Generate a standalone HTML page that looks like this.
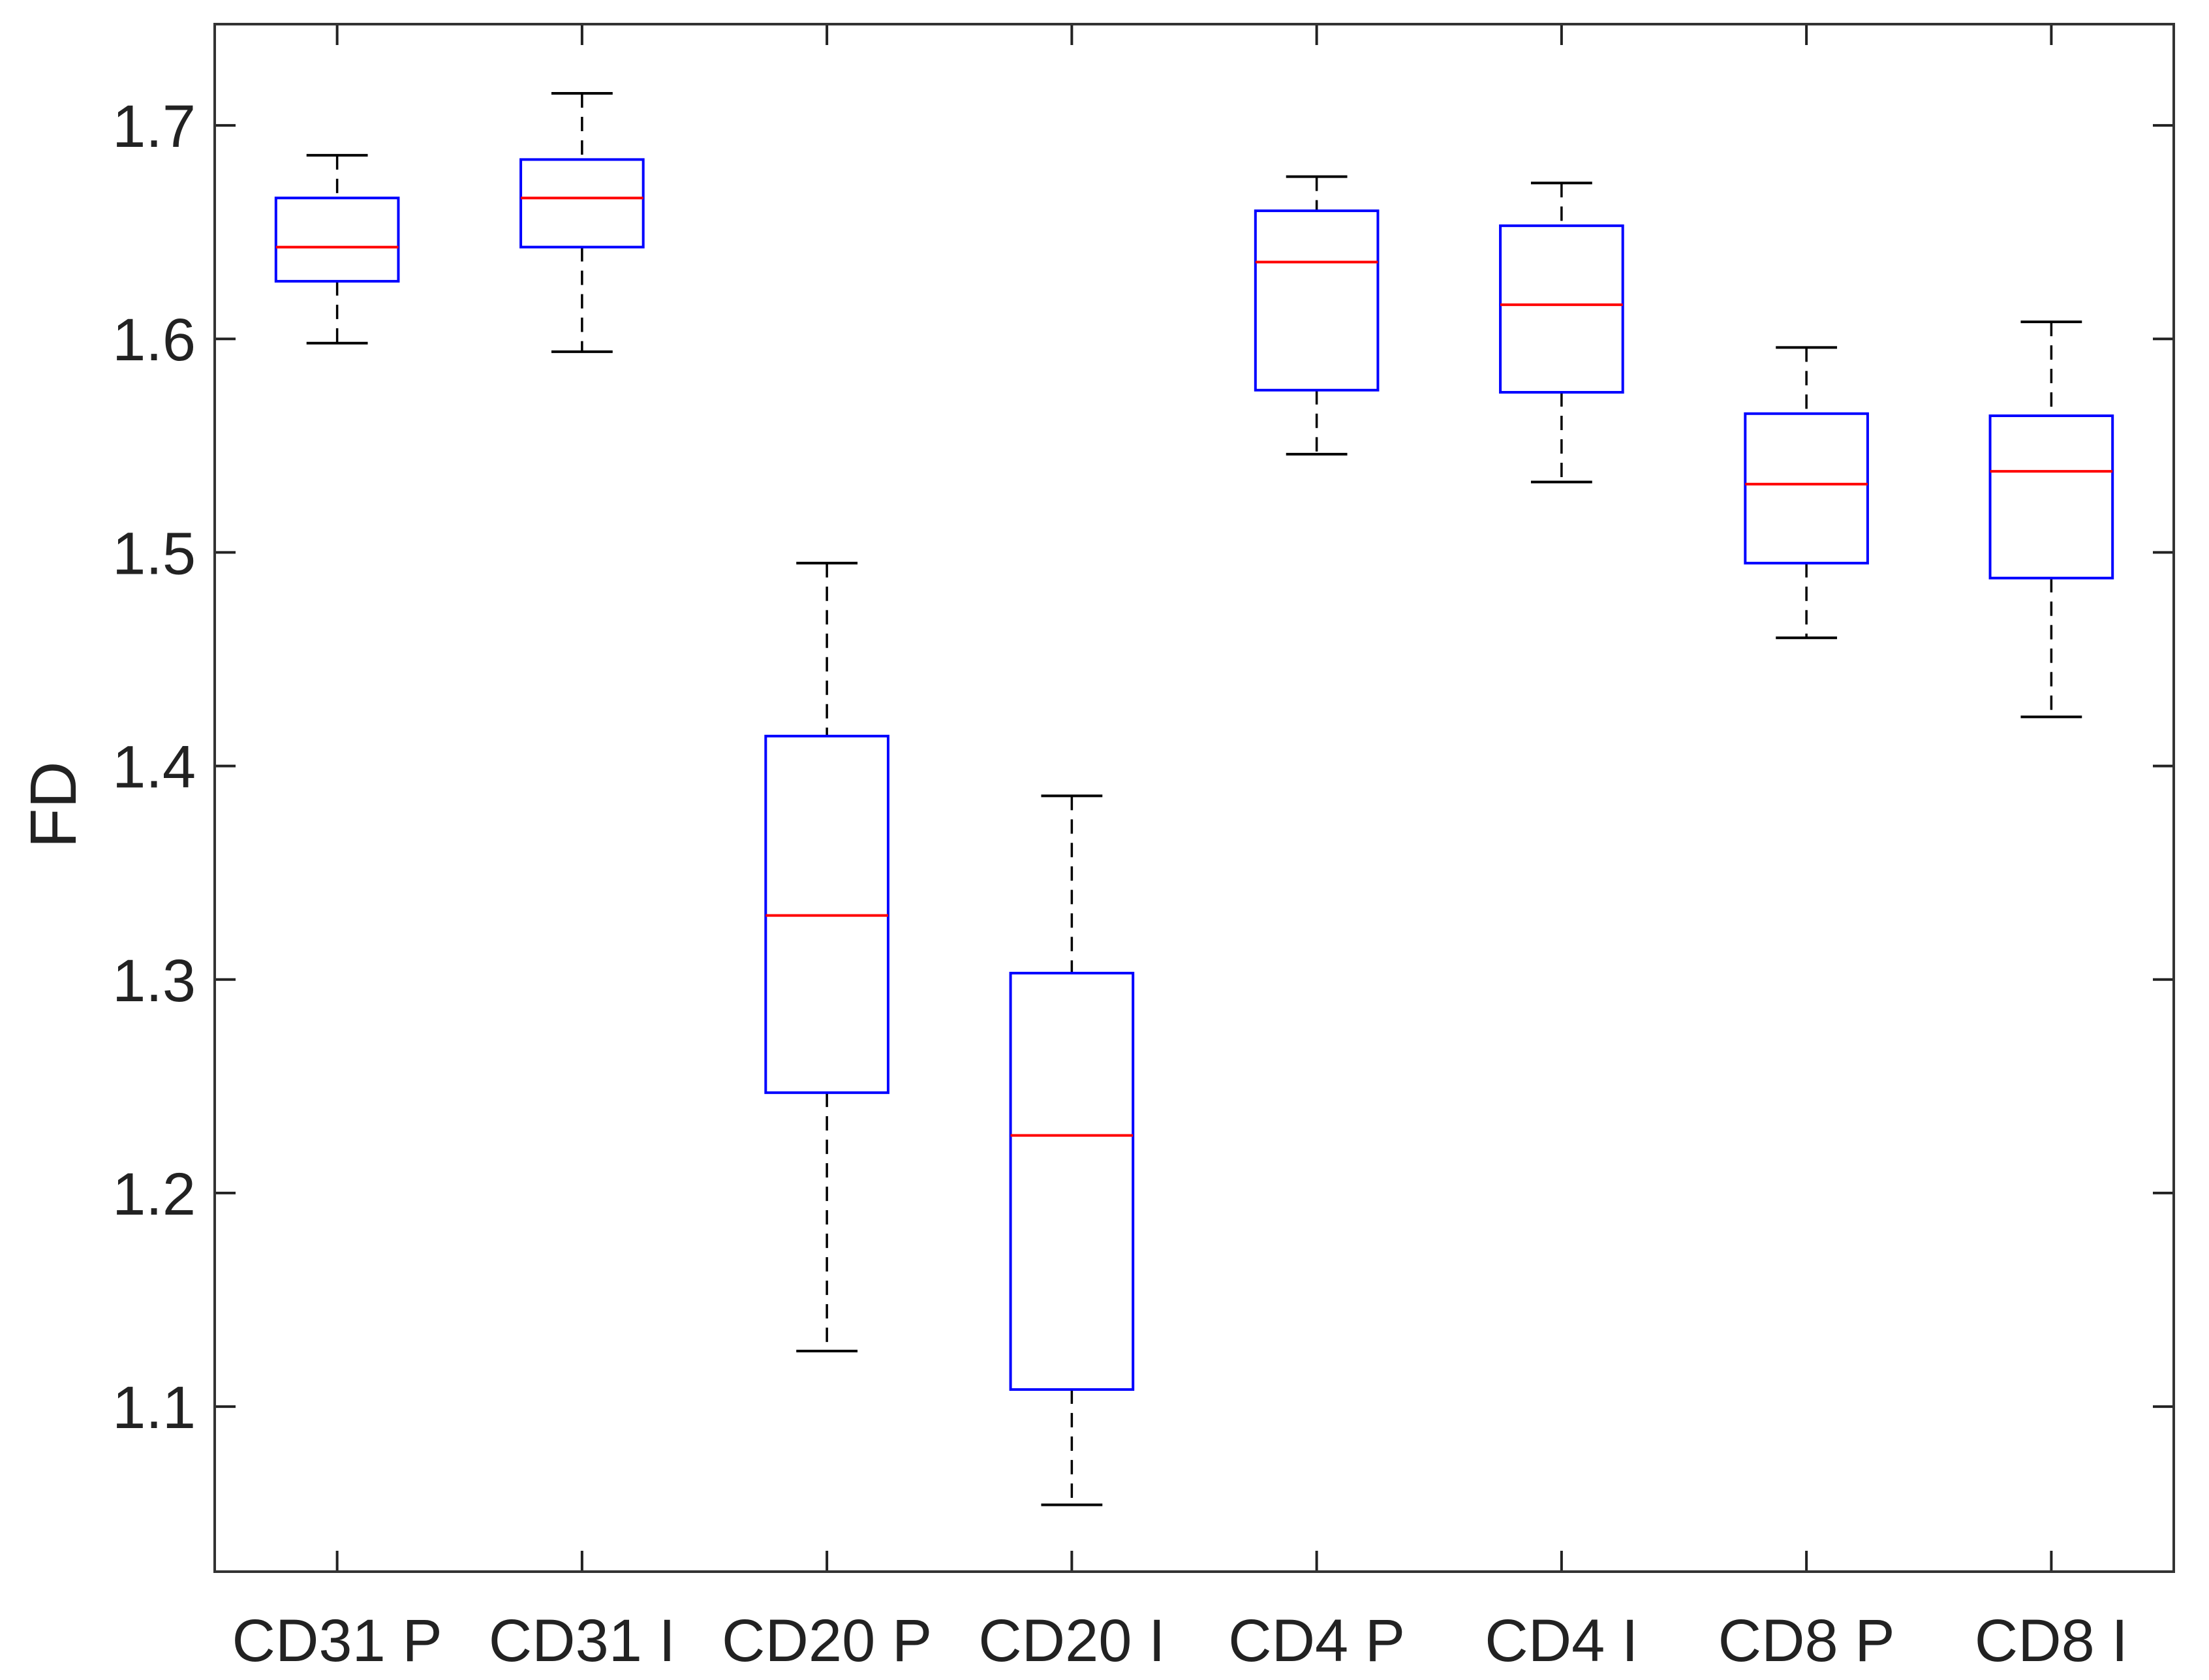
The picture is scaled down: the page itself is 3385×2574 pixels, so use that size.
<!DOCTYPE html>
<html><head><meta charset="utf-8"><style>
html,body{margin:0;padding:0;background:#fff;}
svg{display:block;}
text{font-family:"Liberation Sans",Arial,sans-serif;fill:#222;}
</style></head><body>
<svg id="chart" width="3385" height="2574" viewBox="0 0 3385 2574" xmlns="http://www.w3.org/2000/svg">
<g id="plot"></g>
</svg>
<script>
const categories = ["CD31 P","CD31 I","CD20 P","CD20 I","CD4 P","CD4 I","CD8 P","CD8 I"];
const whiskerHigh = [1.686,1.715,1.495,1.386,1.676,1.673,1.596,1.608];
const q3Values    = [1.666,1.684,1.414,1.303,1.660,1.653,1.565,1.564];
const medians     = [1.643,1.666,1.330,1.227,1.636,1.616,1.532,1.538];
const q1Values    = [1.627,1.643,1.247,1.108,1.576,1.575,1.495,1.488];
const whiskerLow  = [1.598,1.594,1.126,1.054,1.546,1.533,1.460,1.423];
const yTicks = [1.1,1.2,1.3,1.4,1.5,1.6,1.7];
const yTickLabels = ["1.1","1.2","1.3","1.4","1.5","1.6","1.7"];

const L=329,R=3331,T=37,B=2408;
const yMin=1.0227,yMax=1.7474;
function xs(i){return L+(i+0.5)/categories.length*(R-L);}
function ys(v){return B-(v-yMin)/(yMax-yMin)*(B-T);}
const step=(R-L)/categories.length;
const NS="http://www.w3.org/2000/svg";
const g=document.getElementById('plot');
function mk(tag,attrs,parent){const e=document.createElementNS(NS,tag);for(const k in attrs)e.setAttribute(k,attrs[k]);(parent||g).appendChild(e);return e;}

categories.forEach((c,i)=>{
  const x=xs(i),bw=step*0.5,cw=step*0.25;
  const grp=mk('g',{});
  
  
  const w1=mk('line',{x1:x,x2:x,y1:ys(whiskerHigh[i]),y2:ys(q3Values[i]),stroke:'#000','stroke-width':3.5,'stroke-dasharray':'22,14'},grp);
  
  
  const w2=mk('line',{x1:x,x2:x,y1:ys(q1Values[i]),y2:ys(whiskerLow[i]),stroke:'#000','stroke-width':3.5,'stroke-dasharray':'22,14'},grp);
  
  
  const c1=mk('line',{x1:x-cw/2,x2:x+cw/2,y1:ys(whiskerHigh[i]),y2:ys(whiskerHigh[i]),stroke:'#000','stroke-width':4},grp);
  
  
  const c2=mk('line',{x1:x-cw/2,x2:x+cw/2,y1:ys(whiskerLow[i]),y2:ys(whiskerLow[i]),stroke:'#000','stroke-width':4},grp);
  
  
  const bx=mk('rect',{x:x-bw/2,y:ys(q3Values[i]),width:bw,height:ys(q1Values[i])-ys(q3Values[i]),fill:'none',stroke:'#0000ff','stroke-width':4},grp);
  
  
  const md=mk('line',{x1:x-bw/2,x2:x+bw/2,y1:ys(medians[i]),y2:ys(medians[i]),stroke:'#ff0000','stroke-width':4},grp);
  
  
  const tb=mk('line',{x1:x,x2:x,y1:B,y2:B-32,stroke:'#222','stroke-width':4});
  
  
  const tt=mk('line',{x1:x,x2:x,y1:T,y2:T+32,stroke:'#222','stroke-width':4});
  
  
  const lb=mk('text',{x:x,y:2545,'text-anchor':'middle','font-size':92});
  lb.textContent=c;
  
  
});
yTicks.forEach((v,i)=>{
  const y=ys(v);
  const t1=mk('line',{x1:L,x2:L+32,y1:y,y2:y,stroke:'#222','stroke-width':4});
  
  
  const t2=mk('line',{x1:R,x2:R-32,y1:y,y2:y,stroke:'#222','stroke-width':4});
  
  
  const lb=mk('text',{x:300,y:y+33,'text-anchor':'end','font-size':92});
  lb.textContent=yTickLabels[i];
  
  
});
const frame=mk('rect',{x:L,y:T,width:R-L,height:B-T,fill:'none',stroke:'#333','stroke-width':4});


const yl=mk('text',{x:0,y:0,'text-anchor':'middle','font-size':100,transform:'translate(116,1233) rotate(-90)'});
yl.textContent='FD';


</script>
</body></html>
